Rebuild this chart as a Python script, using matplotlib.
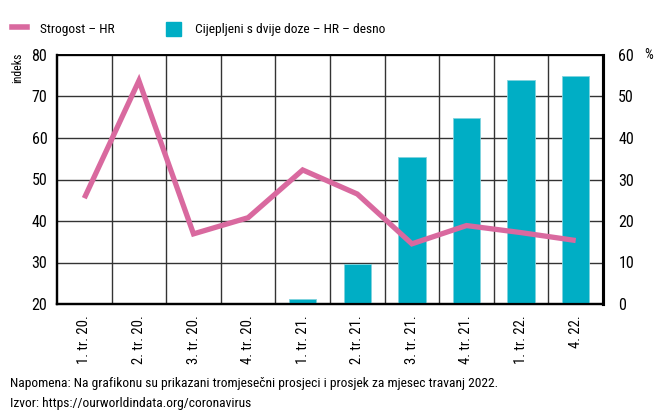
import matplotlib
matplotlib.use("Agg")
import matplotlib.pyplot as plt
from matplotlib.patches import Patch
from matplotlib.lines import Line2D
import numpy as np

plt.rcParams['font.family'] = ['Roboto Condensed', 'DejaVu Sans']

categories = ["1. tr. 20.", "2. tr. 20.", "3. tr. 20.", "4. tr. 20.", "1. tr. 21.",
              "2. tr. 21.", "3. tr. 21.", "4. tr. 21.", "1. tr. 22.", "4. 22."]
strogost = [45.5, 73.8, 36.9, 40.8, 52.3, 46.5, 34.5, 38.9, 37.2, 35.3]
cijepljeni = [0, 0, 0, 0, 1.2, 9.6, 35.5, 44.9, 54.0, 54.9]

pink = "#d9699f"
teal = "#00aec5"

fig = plt.figure(figsize=(6.68, 4.12), dpi=100)
ax2 = fig.add_axes([57 / 668, 1 - 304 / 412, 546 / 668, 249 / 412])
ax = ax2.twinx()
ax.set_zorder(ax2.get_zorder() + 1)
ax.patch.set_visible(False)

x = np.arange(len(categories))

# bars on the right axis (%)
ax2.bar(x, cijepljeni, width=0.5, color=teal, edgecolor="#7fd3de", linewidth=0.6, zorder=3)
ax2.set_ylim(0, 60)
ax2.set_yticks(range(0, 61, 10))
ax2.yaxis.tick_right()
ax2.set_xlim(-0.5, len(categories) - 0.5)
ax2.set_xticks(x)
ax2.set_xticklabels(categories, rotation=90, fontsize=10.5)
ax2.set_xticks(np.arange(0.5, len(categories) - 0.5, 1), minor=True)
ax2.grid(True, axis="y", color="#333333", linewidth=1)
ax2.grid(True, axis="x", which="minor", color="#333333", linewidth=1)
ax2.set_axisbelow(True)
ax2.tick_params(axis="x", which="both", length=0, pad=8)
ax2.tick_params(axis="y", length=0, labelsize=11.5, pad=11)

# line on the left axis (indeks)
ax.plot(x, strogost, color=pink, linewidth=3.8, solid_capstyle="butt", solid_joinstyle="miter", zorder=5)
ax.set_ylim(20, 80)
ax.set_yticks(range(20, 81, 10))
ax.yaxis.tick_left()
ax.tick_params(axis="y", length=0, labelsize=11.5, pad=7)

for a in (ax, ax2):
    for s in a.spines.values():
        s.set_color("black")
    a.spines["left"].set_linewidth(1.6)
    a.spines["bottom"].set_linewidth(1.6)
    a.spines["right"].set_linewidth(2.2)
    a.spines["top"].set_linewidth(1.2)

fig.text(18 / 668, 1 - 53 / 412, "indeks", rotation=90, fontsize=8.5, ha="center", va="top")
fig.text(649 / 668, 1 - 55 / 412, "%", fontsize=10, ha="center", va="center")

handles = [Line2D([0], [0], color=pink, linewidth=4),
           Patch(facecolor=teal, edgecolor=teal)]
fig.legend(handles, ["Strogost – HR", "Cijepljeni s dvije doze – HR – desno"],
           loc="center left", bbox_to_anchor=(0.0, 1 - 29 / 412), ncol=2, frameon=False,
           fontsize=9.7, handlelength=1.1, handleheight=1.3, columnspacing=3.8, handletextpad=1.0)

fig.text(10 / 668, 1 - 384 / 412, "Napomena: Na grafikonu su prikazani tromjesečni prosjeci i prosjek za mjesec travanj 2022.",
         fontsize=9.7, ha="left", va="center")
fig.text(10 / 668, 1 - 404 / 412, "Izvor: https://ourworldindata.org/coronavirus",
         fontsize=9.7, ha="left", va="center")

fig.savefig("out.png", dpi=100)
